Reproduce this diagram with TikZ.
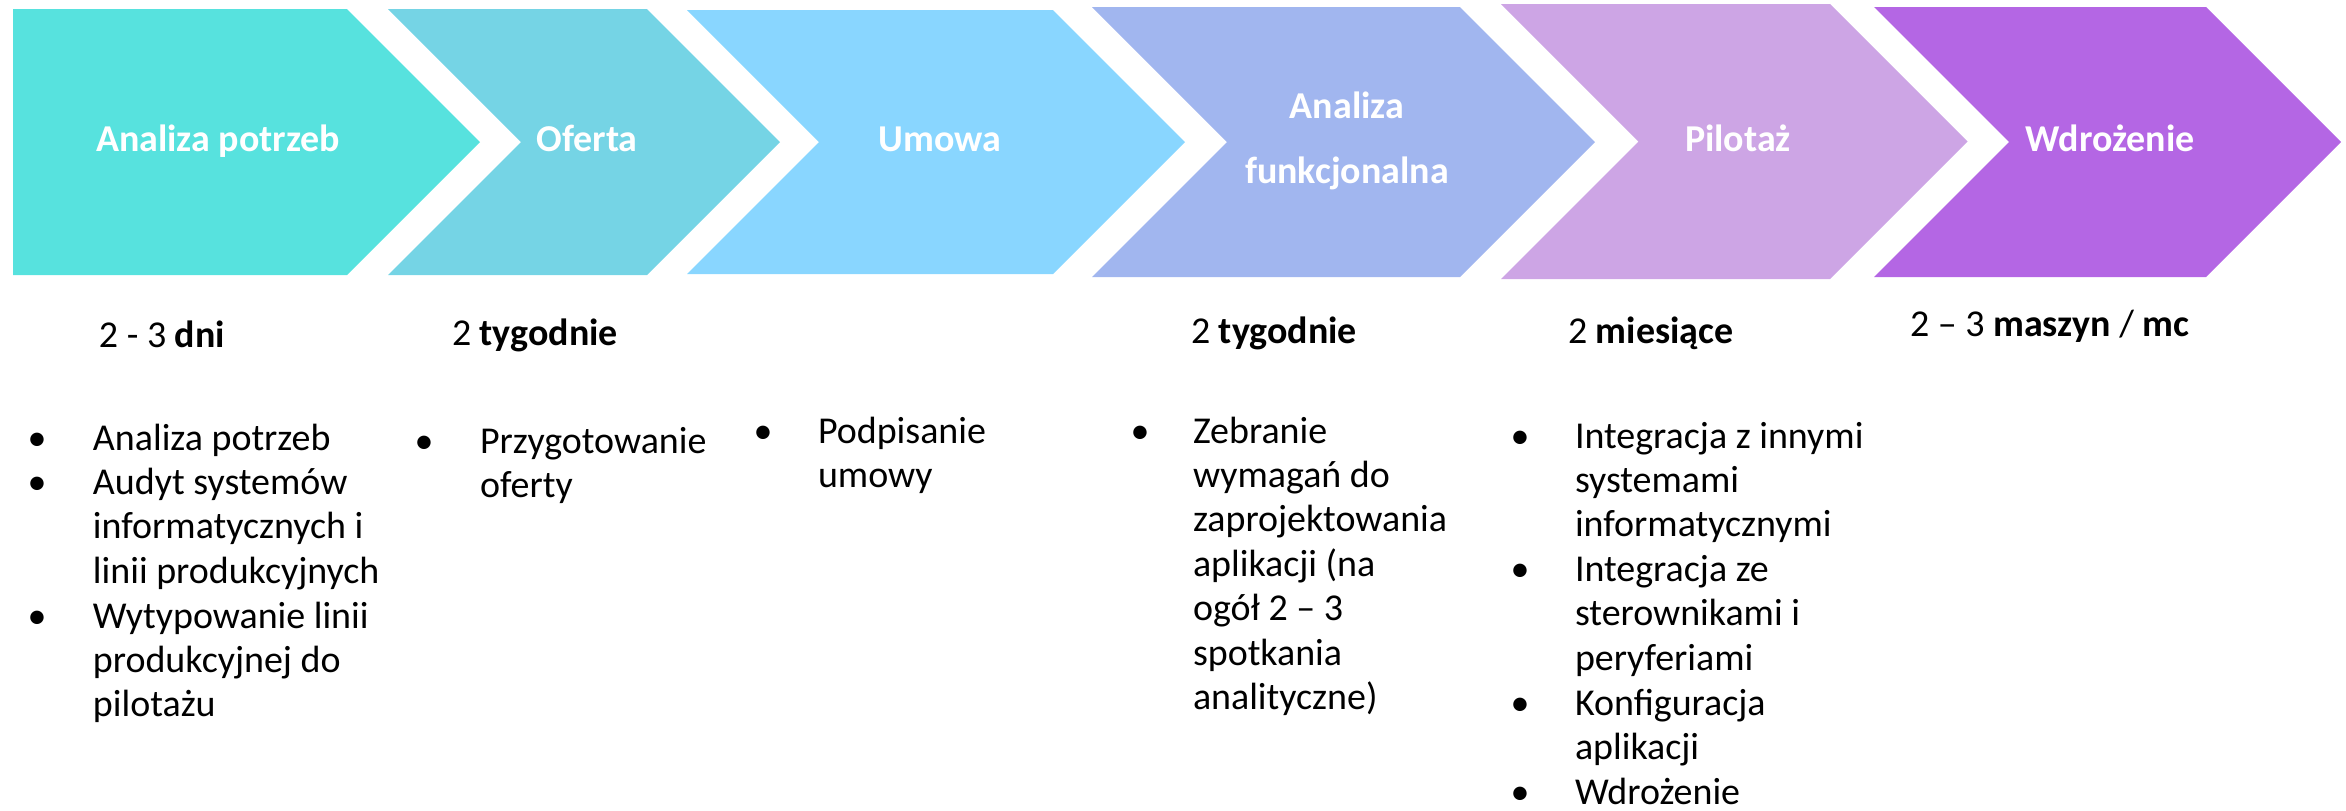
\documentclass[tikz,border=0pt]{standalone}
\usepackage{fontspec}
\setmainfont{Carlito}
\usetikzlibrary{positioning}

\definecolor{cTurq}{HTML}{57E2DE}
\definecolor{cOferta}{HTML}{75D4E5}
\definecolor{cUmowa}{HTML}{89D6FF}
\definecolor{cFunk}{HTML}{A1B6EF}
\definecolor{cPilot}{HTML}{CDA5E5}
\definecolor{cWdroz}{HTML}{B466E4}

\begin{document}
\begin{tikzpicture}
    \tikzset{txt/.style={font=\fontsize{10.8}{12.65}\selectfont, inner sep=0pt, outer sep=0pt}}
    \tikzset{head/.style={txt, text=white, font=\fontsize{10.8}{18.4}\selectfont\bfseries, anchor=base, align=center}}
    \tikzset{time/.style={txt, anchor=base west}}
    \tikzset{item/.style={txt, anchor=base west, align=left}}
    \tikzset{dot/.style={txt, anchor=base}}
    \useasboundingbox (0,0) rectangle (23.46,-8.10);

    % chevrons: name/left/right/top/bottom/notch/colour
    \foreach \nm/\l/\r/\t/\b/\n/\col in {potrzeby/0.13/3.47/0.09/2.75/0/cTurq,
                                          oferta/3.88/6.47/0.09/2.75/1/cOferta,
                                          umowa/6.87/10.53/0.10/2.74/1/cUmowa,
                                          funkcja/10.92/14.60/0.07/2.77/1/cFunk,
                                          pilotaz/15.01/18.30/0.04/2.79/1/cPilot,
                                          wdrozenie/18.74/22.06/0.07/2.77/1/cWdroz}{
        \fill[\col] (\l,-\t) -- (\r,-\t) -- ({\r+(\b-\t)/2},{-(\t+\b)/2}) -- (\r,-\b) -- (\l,-\b)
            -- ({\l+\n*(\b-\t)/2},{-(\t+\b)/2}) -- cycle;
    }

    \node[head] (hPotrzeby) at (2.18,-1.51) {Analiza potrzeb};
    \node[head] (hOferta) at (5.87,-1.51) {Oferta};
    \node[head] (hUmowa) at (9.40,-1.51) {Umowa};
    \node[head] (hFunkcja) at (13.47,-1.83) {Analiza\\funkcjonalna};
    \node[head] (hPilotaz) at (17.38,-1.51) {Pilotaż};
    \node[head] (hWdrozenie) at (21.10,-1.51) {Wdrożenie};

    \node[time] (tPotrzeby) at (0.99,-3.47) {2 - 3 \textbf{dni}};
    \node[time] (tOferta) at (4.52,-3.45) {2 \textbf{tygodnie}};
    \node[time] (tFunkcja) at (11.91,-3.43) {2 \textbf{tygodnie}};
    \node[time] (tPilotaz) at (15.68,-3.43) {2 \textbf{miesiące}};
    \node[time] (tWdrozenie) at (19.10,-3.36) {2 – 3 \textbf{maszyn} / \textbf{mc}};

    % multi-line items sit on the baseline of their last line
    \node[item] (p1) at (0.93,-4.50) {Analiza potrzeb};
    \node[item] (p2) at (0.93,-5.834) {Audyt systemów\\informatycznych i\\linii produkcyjnych};
    \node[item] (p3) at (0.93,-7.169) {Wytypowanie linii\\produkcyjnej do\\pilotażu};

    \node[item] (o1) at (4.80,-4.975) {Przygotowanie\\oferty};

    \node[item] (u1) at (8.18,-4.875) {Podpisanie\\umowy};

    \node[item] (f1) at (11.93,-7.098) {Zebranie\\wymagań do\\zaprojektowania\\aplikacji (na\\ogół 2 – 3\\spotkania\\analityczne)};

    \node[item] (w1) at (15.75,-5.369) {Integracja z innymi\\systemami\\informatycznymi};
    \node[item] (w2) at (15.75,-6.704) {Integracja ze\\sterownikami i\\peryferiami};
    \node[item] (w3) at (15.75,-7.595) {Konfiguracja\\aplikacji};
    \node[item] (w4) at (15.75,-8.04) {Wdrożenie};

    \foreach \i/\x/\y in {p1/0.37/4.50,p2/0.37/4.945,p3/0.37/6.28,o1/4.24/4.53,u1/7.63/4.43,
                          f1/11.40/4.43,w1/15.20/4.48,w2/15.20/5.815,w3/15.20/7.15,w4/15.20/8.04}{
        \node[dot] (d\i) at (\x,-\y) {•};
    }
\end{tikzpicture}
\end{document}
